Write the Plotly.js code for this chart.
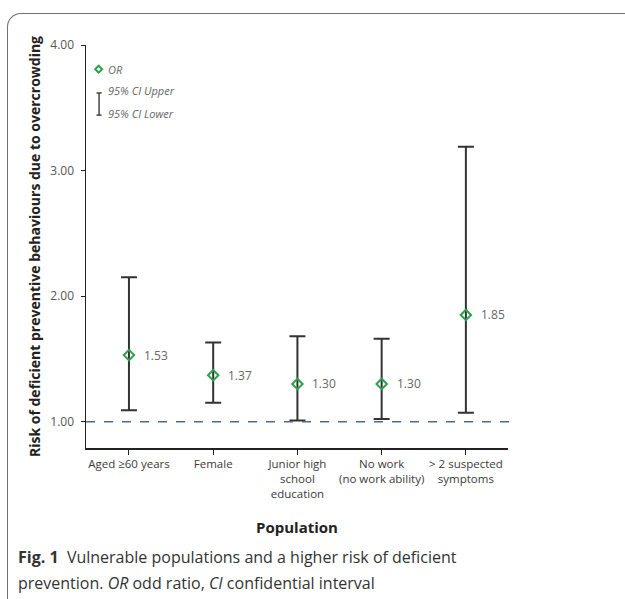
<!DOCTYPE html>
<html>
<head>
<meta charset="utf-8">
<script src="https://cdn.plot.ly/plotly-3.0.1.min.js"></script>
<style>
html,body{margin:0;padding:0;background:#fff;}
#wrap{position:relative;width:625px;height:599px;overflow:hidden;}
#frame{position:absolute;left:7px;top:13px;width:640px;height:620px;border-top:1.5px solid #707070;border-left:1.5px solid #707070;border-top-left-radius:14px;}
#chart{position:absolute;left:0;top:0;width:625px;height:599px;}
</style>
</head>
<body>
<div id="wrap"><div id="frame"></div><div id="chart"></div></div>
<script>
const categories = ["Aged ≥60 years", "Female", "Junior high<br>school<br>education", "No work<br>(no work ability)", "> 2 suspected<br>symptoms"];
const orValues = [1.53, 1.37, 1.30, 1.30, 1.85];
const ciUpper = [2.15, 1.63, 1.68, 1.66, 3.19];
const ciLower = [1.09, 1.15, 1.01, 1.02, 1.07];
const yTicks = [1, 2, 3, 4];
const refLine = 1.0;

const idx = categories.map((_, i) => i);
const FONT = "Open Sans, Noto Sans, sans-serif";
const GREEN = '#2e9e4f';

const trace = {
  type: 'scatter',
  mode: 'markers',
  x: idx,
  y: orValues,
  name: 'OR',
  showlegend: false,
  marker: {symbol: 'diamond-open', size: 8, color: GREEN, line: {width: 2, color: GREEN}},
  error_y: {
    type: 'data', symmetric: false,
    array: ciUpper.map((u, i) => u - orValues[i]),
    arrayminus: orValues.map((o, i) => o - ciLower[i]),
    color: '#333', thickness: 2, width: 8
  },
  cliponaxis: false
};

const annotations = orValues.map((v, i) => ({
  x: i, y: v, xref: 'x', yref: 'y', text: v.toFixed(2), showarrow: false,
  xanchor: 'left', xshift: 13, font: {family: FONT, size: 12, color: '#666'}
}));

const legendFont = {family: FONT, size: 11, color: '#666'};
annotations.push(
  {xref: 'paper', yref: 'paper', x: 0.047, y: 0.940, text: '<i>OR</i>', showarrow: false, xanchor: 'left', yanchor: 'middle', font: legendFont},
  {xref: 'paper', yref: 'paper', x: 0.047, y: 0.888, text: '<i>95% CI Upper</i>', showarrow: false, xanchor: 'left', yanchor: 'middle', font: legendFont},
  {xref: 'paper', yref: 'paper', x: 0.047, y: 0.830, text: '<i>95% CI Lower</i>', showarrow: false, xanchor: 'left', yanchor: 'middle', font: legendFont},
  {xref: 'paper', yref: 'paper', x: 0.5, y: -0.196, text: '<b>Population</b>', showarrow: false, xanchor: 'center', yanchor: 'middle', font: {family: FONT, size: 15, color: '#222'}},
  {xref: 'paper', yref: 'paper', x: -0.165, y: -0.270, text: '<b>Fig. 1</b>  Vulnerable populations and a higher risk of deficient', showarrow: false, xanchor: 'left', yanchor: 'middle', align: 'left', font: {family: FONT, size: 16, color: '#333'}},
  {xref: 'paper', yref: 'paper', x: -0.165, y: -0.335, text: 'prevention. <i>OR</i> odd ratio, <i>CI</i> confidential interval', showarrow: false, xanchor: 'left', yanchor: 'middle', align: 'left', font: {family: FONT, size: 16, color: '#333'}}
);

const shapes = [
  {type: 'line', xref: 'paper', yref: 'y', x0: 0, x1: 1.004, y0: refLine, y1: refLine, line: {color: '#4f6a8f', width: 1.5, dash: 'dash'}},
  {type: 'path', xref: 'paper', yref: 'paper', xsizemode: 'pixel', ysizemode: 'pixel', xanchor: 0.030, yanchor: 0.940, path: 'M0,3.5 L3.5,0 L0,-3.5 L-3.5,0 Z', line: {color: GREEN, width: 2}},
  {type: 'line', xref: 'paper', yref: 'paper', x0: 0.031, x1: 0.031, y0: 0.826, y1: 0.881, line: {color: '#444', width: 1.5}},
  {type: 'line', xref: 'paper', yref: 'paper', x0: 0.025, x1: 0.037, y0: 0.881, y1: 0.881, line: {color: '#444', width: 1.5}},
  {type: 'line', xref: 'paper', yref: 'paper', x0: 0.025, x1: 0.037, y0: 0.826, y1: 0.826, line: {color: '#444', width: 1.5}}
];

const layout = {
  width: 625, height: 599,
  margin: {l: 86, r: 117, t: 45, b: 151},
  paper_bgcolor: 'rgba(0,0,0,0)', plot_bgcolor: 'rgba(0,0,0,0)',
  font: {family: FONT, color: '#444'},
  showlegend: false,
  xaxis: {
    range: [-0.51, 4.50], tickvals: idx, ticktext: categories, tickangle: 0,
    showline: true, linecolor: '#222', linewidth: 1.5, ticks: 'outside', ticklen: 5, tickcolor: '#222',
    showgrid: false, zeroline: false, tickfont: {family: FONT, size: 11.5, color: '#3a3a3a'}
  },
  yaxis: {
    range: [0.79, 4.0], tickvals: yTicks, tickformat: '.2f',
    showline: true, linecolor: '#222', linewidth: 1.5, ticks: 'outside', ticklen: 4, tickcolor: '#222',
    ticklabelstandoff: 4,
    showgrid: false, zeroline: false, tickfont: {family: FONT, size: 12, color: '#555'},
    title: {text: '<b>Risk of deficient preventive behaviours due to overcrowding</b>', font: {family: FONT, size: 14, color: '#222'}, standoff: 6}
  },
  annotations: annotations,
  shapes: shapes
};

Plotly.newPlot('chart', [trace], layout, {displayModeBar: false, staticPlot: true});
</script>
</body>
</html>
